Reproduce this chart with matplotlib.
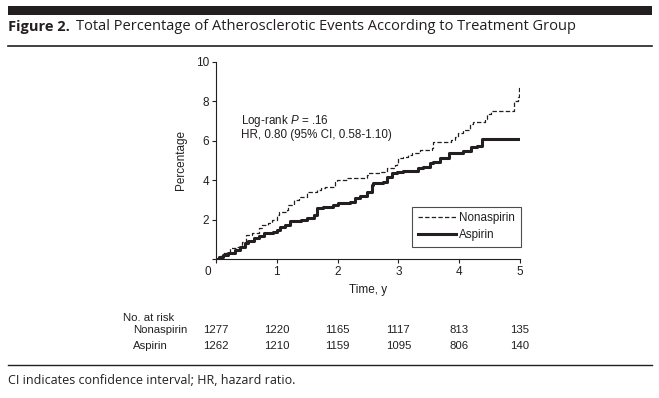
import numpy as np
import matplotlib
matplotlib.use("Agg")
import matplotlib.pyplot as plt
import matplotlib.transforms as mtransforms
from matplotlib.patches import Rectangle
from matplotlib.lines import Line2D

# Kaplan-Meier style step data (percentage with event)
non_t = [0, 0.05, 0.12, 0.23, 0.34, 0.42, 0.5, 0.59, 0.7, 0.76,
         0.85, 0.92, 1.0, 1.03, 1.16, 1.19, 1.28, 1.36, 1.49, 1.66,
         1.72, 1.79, 1.96, 1.99, 2.15, 2.48, 2.5, 2.7, 2.81, 2.94,
         2.97, 3.0, 3.08, 3.16, 3.22, 3.36, 3.55, 3.57, 3.87, 3.93,
         3.98, 4.07, 4.18, 4.23, 4.42, 4.45, 4.53, 4.9, 4.97, 4.99, 5.0]
non_p = [0, 0.15, 0.29, 0.54, 0.63, 0.88, 1.22, 1.3, 1.57, 1.73,
         1.83, 1.98, 2.23, 2.4, 2.49, 2.74, 2.99, 3.16, 3.42, 3.5,
         3.59, 3.67, 3.92, 4.0, 4.1, 4.26, 4.35, 4.43, 4.6, 4.77,
         4.85, 5.11, 5.16, 5.28, 5.4, 5.53, 5.62, 5.95, 6.04, 6.2,
         6.41, 6.55, 6.83, 6.97, 7.09, 7.35, 7.53, 8.04, 8.2, 8.67, 8.67]

asp_t = [0, 0.05, 0.12, 0.2, 0.31, 0.4, 0.48, 0.53, 0.62, 0.7,
         0.79, 0.93, 1.0, 1.06, 1.14, 1.22, 1.39, 1.5, 1.61, 1.66,
         1.76, 1.93, 2.01, 2.2, 2.29, 2.37, 2.48, 2.56, 2.59, 2.75,
         2.81, 2.89, 2.97, 3.08, 3.33, 3.41, 3.52, 3.57, 3.68, 3.84,
         4.07, 4.2, 4.29, 4.38, 5.0]
asp_p = [0, 0.1, 0.2, 0.29, 0.46, 0.63, 0.8, 0.93, 1.05, 1.18,
         1.34, 1.39, 1.47, 1.61, 1.73, 1.94, 1.98, 2.07, 2.23, 2.57,
         2.65, 2.74, 2.84, 2.91, 3.08, 3.2, 3.42, 3.76, 3.87, 3.92,
         4.18, 4.35, 4.4, 4.48, 4.6, 4.69, 4.89, 4.94, 5.11, 5.36,
         5.5, 5.67, 5.75, 6.08, 6.08]

risk_years = [0, 1, 2, 3, 4, 5]
risk_non = [1277, 1220, 1165, 1117, 813, 135]
risk_asp = [1262, 1210, 1159, 1095, 806, 140]

ink = "#231f20"
plt.rcParams["font.family"] = ["Liberation Sans", "DejaVu Sans"]
plt.rcParams["mathtext.fontset"] = "custom"
plt.rcParams["mathtext.it"] = "Liberation Sans:italic"
plt.rcParams["mathtext.rm"] = "Liberation Sans"

W, H = 659, 398
fig = plt.figure(figsize=(W / 100, H / 100), dpi=100)


def fx(px):
    return px / W


def fy(py):
    return 1 - py / H


# header / footer decorations
fig.patches.append(Rectangle((fx(8), fy(15)), fx(644), 9 / H, transform=fig.transFigure,
                             color=ink, lw=0))
fig.lines.append(Line2D([fx(8), fx(652)], [fy(46), fy(46)], transform=fig.transFigure,
                        color=ink, lw=1.2))
fig.lines.append(Line2D([fx(8), fx(652)], [fy(365), fy(365)], transform=fig.transFigure,
                        color=ink, lw=1.0))
fig.text(fx(8), fy(27), "Figure 2.", family="Open Sans", weight="bold", fontsize=10.5,
         color=ink, va="center")
fig.text(fx(76), fy(27), "Total Percentage of Atherosclerotic Events According to Treatment Group",
         family="Open Sans", fontsize=10.5, color=ink, va="center")
fig.text(fx(8), fy(381), "CI indicates confidence interval; HR, hazard ratio.",
         family="Open Sans", fontsize=9, color=ink, va="center")

ax = fig.add_axes([fx(216), fy(259), 304 / W, 197 / H])
ax.step(non_t, non_p, where="post", color=ink, lw=0.9, dashes=(3.5, 1.8), label="Nonaspirin")
ax.step(asp_t, asp_p, where="post", color=ink, lw=2.2, label="Aspirin")

ax.set_xlim(0, 5)
ax.set_ylim(0, 10)
ax.set_xticks(risk_years)
ax.set_yticks([0, 2, 4, 6, 8, 10])
ax.set_yticklabels(["", "2", "4", "6", "8", "10"])
for s in ["top", "right"]:
    ax.spines[s].set_visible(False)
for s in ["left", "bottom"]:
    ax.spines[s].set_color(ink)
    ax.spines[s].set_linewidth(0.8)
ax.tick_params(length=3, width=0.8, color=ink, labelcolor=ink, labelsize=8.5, pad=2)
# corner "0" sits a little to the left
lab0 = ax.get_xticklabels()[0]
lab0.set_transform(lab0.get_transform() + mtransforms.ScaledTranslation(-8 / 100, 0, fig.dpi_scale_trans))

ax.set_ylabel("Percentage", fontsize=8.5, color=ink, labelpad=6)
ax.set_xlabel("Time, y", fontsize=8.5, color=ink, labelpad=4)

ax.text(0.41, 6.7, "Log-rank $P$ = .16\nHR, 0.80 (95% CI, 0.58-1.10)", fontsize=8.4,
        color=ink, va="center", linespacing=1.05)

leg = ax.legend(loc="lower right", bbox_to_anchor=(1.003, 0.061), borderaxespad=0,
                fontsize=8.4, frameon=True, fancybox=False, handlelength=3.3,
                handletextpad=0.25, borderpad=0.5, labelspacing=0.4)
leg.get_frame().set_edgecolor(ink)
leg.get_frame().set_linewidth(0.8)
for t in leg.get_texts():
    t.set_color(ink)

# number at risk table
tr = mtransforms.blended_transform_factory(ax.transData, fig.transFigure)
fig.text(fx(123), fy(318), "No. at risk", fontsize=8.2, color=ink, va="center")
fig.text(fx(133), fy(330), "Nonaspirin", fontsize=8.2, color=ink, va="center")
fig.text(fx(133), fy(346), "Aspirin", fontsize=8.2, color=ink, va="center")
for yr, n1, n2 in zip(risk_years, risk_non, risk_asp):
    ax.text(yr, fy(330), str(n1), transform=tr, ha="center", va="center", fontsize=8.2, color=ink)
    ax.text(yr, fy(346), str(n2), transform=tr, ha="center", va="center", fontsize=8.2, color=ink)

fig.savefig("out.png", dpi=100)
